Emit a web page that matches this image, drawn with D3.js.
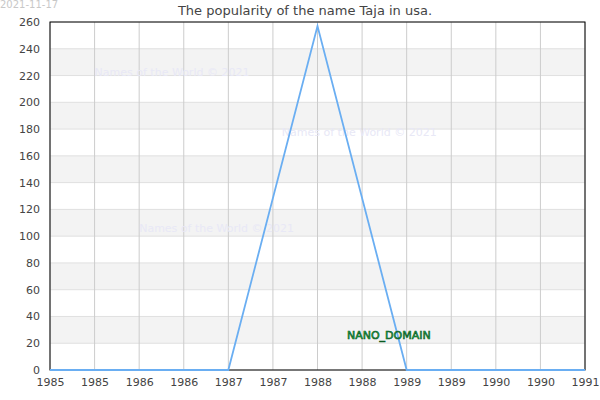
<!DOCTYPE html>
<html><head><meta charset="utf-8">
<script src="https://cdn.jsdelivr.net/npm/d3@7"></script>
<style>body{margin:0;background:#fff;font-family:"DejaVu Sans",sans-serif;}</style>
</head><body>
<svg id="chart" width="600" height="400"></svg>
<script>
var years = [1985, 1986, 1987, 1988, 1989, 1990, 1991];
var counts = [0, 0, 0, 257, 0, 0, 0];
var xTicks = d3.range(1985, 1991.01, 0.5);
var yTicks = d3.range(0, 261, 20);
var watermarks = [
    {x: 1985.5, y: 220, t: "Names of the World © 2021"},
    {x: 1987.6, y: 175, t: "Names of the World © 2021"},
    {x: 1986.0, y: 103, t: "Names of the World © 2021"}
];

var svg = d3.select("#chart");
var m = {left: 50, right: 15, top: 22, bottom: 30};
var w = 600 - m.left - m.right, h = 400 - m.top - m.bottom;

var x = d3.scaleLinear().domain([1985, 1991]).range([m.left, m.left + w]);
var y = d3.scaleLinear().domain([0, 260]).range([m.top + h, m.top]);

// alternating bands
var g = svg.append("g");
g.selectAll(".band")
    .data(yTicks.filter(function(d) { return d < 260 && (d / 20) % 2 == 1; }))
    .enter().append("rect")
    .attr("x", m.left).attr("width", w)
    .attr("y", function(d) { return y(d + 20); })
    .attr("height", function(d) { return y(d) - y(d + 20); })
    .attr("fill", "#f3f3f3");

g.selectAll(".hg").data(yTicks).enter().append("line")
    .attr("x1", m.left).attr("x2", m.left + w)
    .attr("y1", function(d) { return y(d); }).attr("y2", function(d) { return y(d); })
    .attr("stroke", "#e0e0e0");
g.selectAll(".vg").data(xTicks).enter().append("line")
    .attr("y1", m.top).attr("y2", m.top + h)
    .attr("x1", function(d) { return x(d); }).attr("x2", function(d) { return x(d); })
    .attr("stroke", "#cccccc");

svg.selectAll(".wm").data(watermarks).enter().append("text")
    .attr("x", function(d) { return x(d.x); }).attr("y", function(d) { return y(d.y); })
    .attr("font-size", 11).attr("fill", "#e8e8f6").text(function(d) { return d.t; });

svg.append("rect").attr("x", m.left).attr("y", m.top).attr("width", w).attr("height", h)
    .attr("fill", "none").attr("stroke", "#000");

var xAxis = svg.append("g").attr("transform", "translate(0," + (m.top + h) + ")")
    .call(d3.axisBottom(x).tickValues(xTicks).tickSize(0).tickPadding(8)
        .tickFormat(function(d) { return Math.floor(d); }));
var yAxis = svg.append("g").attr("transform", "translate(" + m.left + ",0)")
    .call(d3.axisLeft(y).tickValues(yTicks).tickSize(0).tickPadding(10));
[xAxis, yAxis].forEach(function(a) {
    a.select(".domain").remove();
    a.selectAll("text").attr("font-family", "DejaVu Sans").attr("font-size", 11).attr("fill", "#444");
});

svg.append("path")
    .datum(years.map(function(d, i) { return [d, counts[i]]; }))
    .attr("fill", "none").attr("stroke", "#6aaef2").attr("stroke-width", 1.8)
    .attr("d", d3.line().x(function(d) { return x(d[0]); }).y(function(d) { return y(d[1]); }));

svg.append("text").attr("x", 305).attr("y", 15).attr("text-anchor", "middle")
    .attr("font-size", 13).attr("fill", "#444").text("The popularity of the name Taja in usa.");
svg.append("text").attr("x", 0).attr("y", 8).attr("font-size", 10).attr("fill", "#c8c8c8").text("2021-11-17");

svg.append("text").attr("x", x(1988.8)).attr("y", y(23)).attr("text-anchor", "middle")
    .attr("font-size", 11).attr("fill", "#1db954").attr("stroke", "#0a5a22").attr("stroke-width", 0.6)
    .text("NANO_DOMAIN");
</script>
</body></html>
